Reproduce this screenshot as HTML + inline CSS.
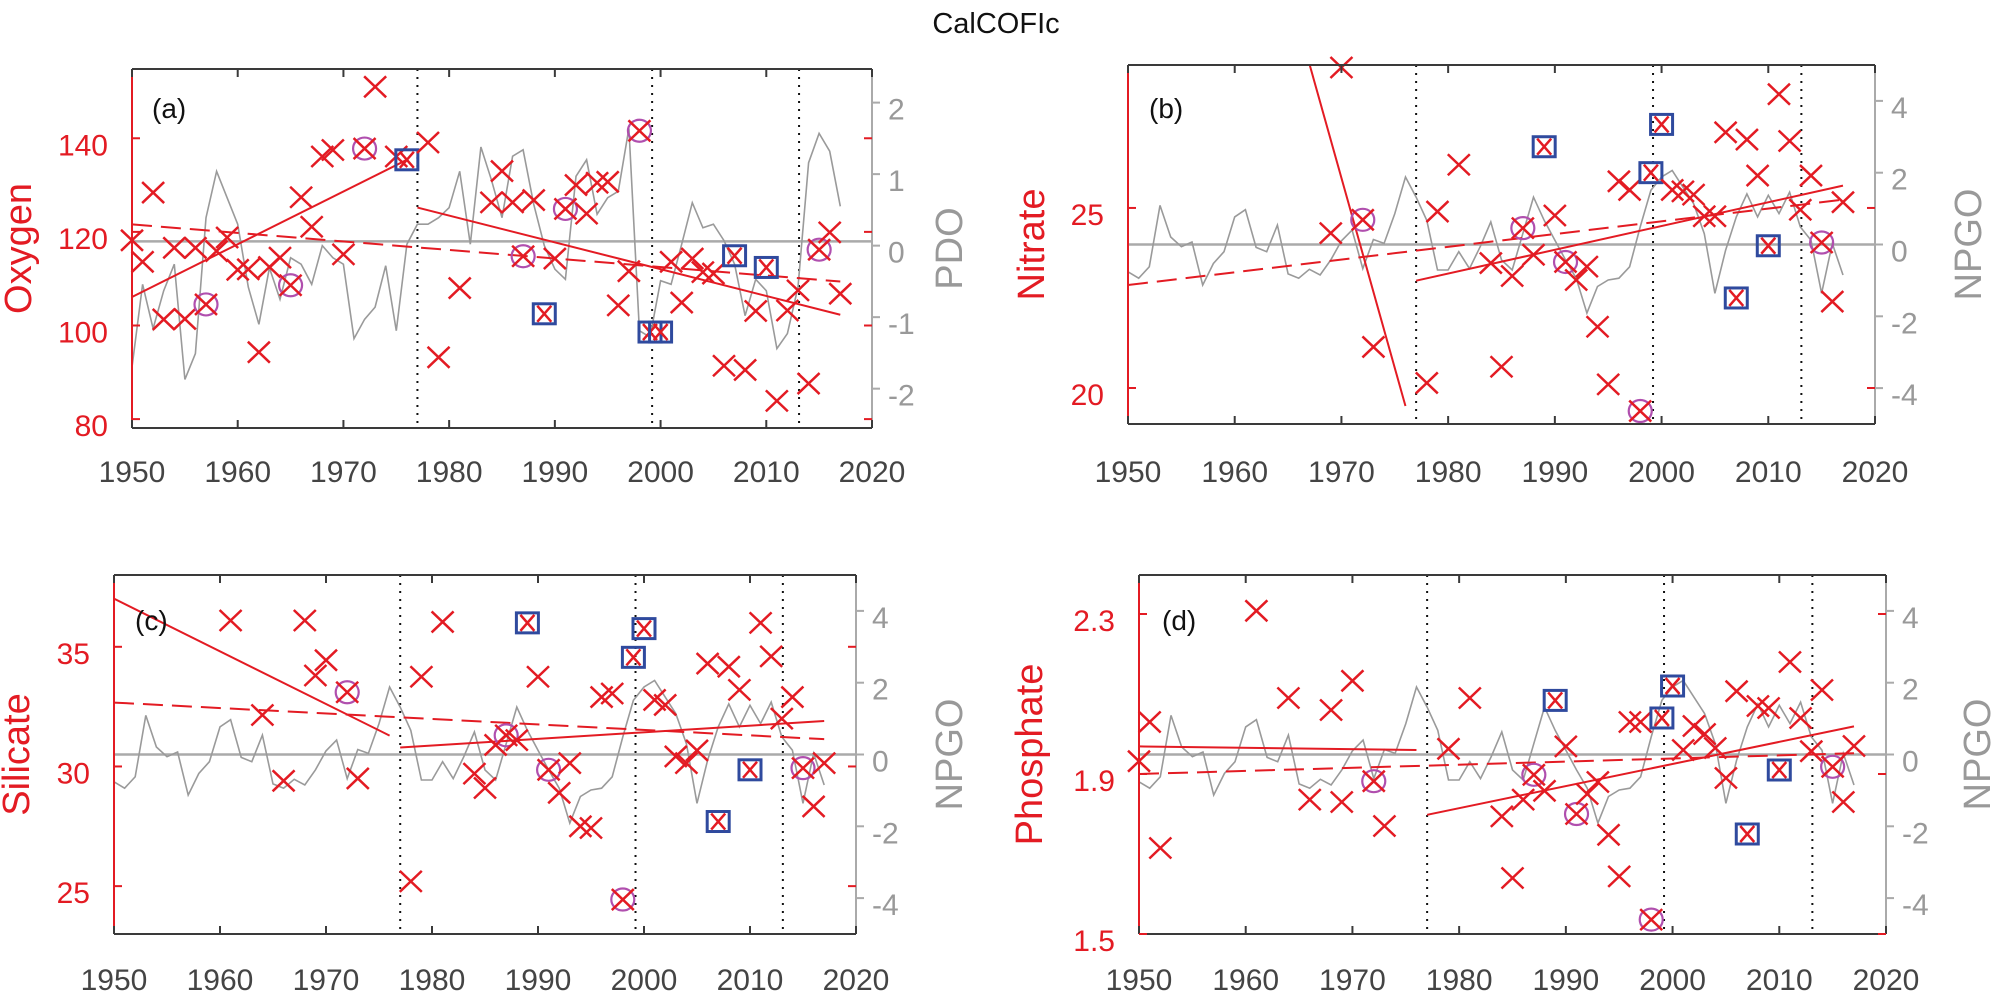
<!DOCTYPE html>
<html><head><meta charset="utf-8"><title>CalCOFIc</title>
<style>
html,body{margin:0;padding:0;background:#fff;}
svg{display:block;font-family:"Liberation Sans",Arial,sans-serif;}
</style></head>
<body>
<svg id="fig" width="1991" height="992" viewBox="0 0 1991 992" xmlns="http://www.w3.org/2000/svg">
<text x="996" y="33" font-size="29" text-anchor="middle" fill="#111">CalCOFIc</text>
</svg>
<script>
// ---------- data ----------
const breakYears = [1977.0, 1999.2, 2013.1];

const oxyYears = [1950,1951,1952,1953,1954,1955,1956,1957,1958,1959,1960,1961,1962,1963,1964,1965,1966,1967,1968,1969,1970,1972,1973,1975,1976,1978,1979,1981,1984,1985,1986,1987,1988,1989,1990,1991,1992,1993,1994,1995,1996,1997,1998,1999,2000,2001,2002,2003,2004,2005,2006,2007,2008,2009,2010,2011,2012,2013,2014,2015,2016,2017];
const oxyValues = [118.2,113.6,128.4,101.3,116.6,101.4,116.6,104.5,115.9,118.8,111.9,112,94.3,112.5,114.5,108.6,127.4,121.1,136.1,137.5,115.2,137.8,151,136.1,135.4,139.1,93.2,108,126.3,133,126.3,114.8,126.8,102.5,114.3,124.9,130,123.9,130.5,130.7,104.3,111.6,141.6,98.6,98.6,113.6,104.9,114.3,111.4,111.1,91.4,114.9,90.5,103.1,112.4,83.9,103.2,107.5,87.6,116.2,119.9,106.8];
const oxyCircleYears = [1957,1965,1972,1987,1991,1998,2015];
const oxySquareYears = [1976,1989,1999,2000,2007,2010];
const oxyTrend1 = [[1950,106.1],[1976,135.4]];
const oxyTrend2 = [[1977,125.2],[2017,102.3]];
const oxyTrendAll = [[1950,121.6],[2017,109.4]];

const indexYears = [1950,1951,1952,1953,1954,1955,1956,1957,1958,1959,1960,1961,1962,1963,1964,1965,1966,1967,1968,1969,1970,1971,1972,1973,1974,1975,1976,1977,1978,1979,1980,1981,1982,1983,1984,1985,1986,1987,1988,1989,1990,1991,1992,1993,1994,1995,1996,1997,1998,1999,2000,2001,2002,2003,2004,2005,2006,2007,2008,2009,2010,2011,2012,2013,2014,2015,2016,2017];
const pdoValues = [-1.70,-0.54,-1.16,-0.63,-0.26,-1.87,-1.51,0.39,1.04,0.67,0.30,-0.58,-1.10,-0.31,-0.75,-0.17,-0.26,-0.54,0,-0.17,-0.26,-1.30,-1.03,-0.86,-0.28,-1.19,0.02,0.30,0.30,0.39,0.53,1.04,0.02,1.38,0.92,0.39,1.25,1.34,0.58,0,-0.33,-0.47,0.97,1.20,0.44,0.67,0.76,1.64,-1.19,-1.28,-0.49,-0.54,0.02,0.60,0.25,0.30,0.07,-0.26,-0.98,-0.47,-0.63,-1.44,-1.23,-0.58,1.16,1.57,1.32,0.55];
const npgoValues = [-0.76,-0.94,-0.62,1.09,0.21,-0.06,0.07,-1.13,-0.53,-0.2,0.77,0.97,-0.08,-0.2,0.54,-0.82,-0.94,-0.69,-0.85,-0.43,0.10,0.40,-0.67,0.14,0.03,0.86,1.88,1.32,0.67,-0.71,-0.71,-0.2,-0.67,-0.06,0.63,-0.43,-0.71,0.30,1.32,0.67,0.12,-0.43,-0.94,-1.91,-1.17,-0.99,-0.94,-0.62,0.49,1.51,1.88,2.06,1.60,1.14,0.30,-1.36,-0.16,0.77,1.41,0.77,1.37,0.86,1.46,0.49,0.12,-1.36,0.03,-0.85];

const nitYears = [1969,1970,1972,1973,1978,1979,1981,1984,1985,1986,1987,1988,1989,1990,1991,1992,1993,1994,1995,1996,1997,1998,1999,2000,2001,2002,2003,2004,2005,2006,2007,2008,2009,2010,2011,2012,2013,2014,2015,2016,2017];
const nitValues = [24.3,28.9,24.67,21.14,20.14,24.9,26.2,23.47,20.59,23.11,24.44,23.7,26.7,24.79,23.5,23.0,23.37,21.7,20.1,25.74,25.5,19.36,25.98,27.32,25.5,25.46,25.37,24.77,24.77,27.1,22.5,26.9,25.9,23.95,28.16,26.86,24.95,25.9,24.04,22.4,25.16];
const nitCircleYears = [1972,1987,1991,1998,2015];
const nitSquareYears = [1989,1999,2000,2007,2010];
const nitTrend1 = [[1967,29.0],[1976,19.5]];
const nitTrend2 = [[1977,22.98],[2017,25.62]];
const nitTrendAll = [[1950,22.86],[2017,25.23]];

const silYears = [1961,1964,1966,1968,1969,1970,1972,1973,1978,1979,1981,1984,1985,1986,1987,1988,1989,1990,1991,1992,1993,1994,1995,1996,1997,1998,1999,2000,2001,2002,2003,2004,2005,2006,2007,2008,2009,2010,2011,2012,2013,2014,2015,2016,2017];
const silValues = [36.1,32.15,29.4,36.1,33.8,34.44,33.1,29.5,25.2,33.75,36.04,29.7,29.1,30.9,31.3,31.1,36.0,33.75,29.86,28.9,30.14,27.5,27.43,32.9,33.05,24.44,34.56,35.76,32.78,32.57,30.42,30.14,30.67,34.3,27.7,34.17,33.2,29.86,36.0,34.6,32.0,32.9,29.93,28.33,30.14];
const silCircleYears = [1972,1987,1991,1998,2015];
const silSquareYears = [1989,1999,2000,2007,2010];
const silTrend1 = [[1950,37.01],[1976,31.29]];
const silTrend2 = [[1977,30.79],[2017,31.9]];
const silTrendAll = [[1950,32.67],[2017,31.14]];

const phoYears = [1950,1951,1952,1961,1964,1966,1968,1969,1970,1972,1973,1979,1981,1984,1985,1986,1987,1988,1989,1990,1991,1992,1993,1994,1995,1996,1997,1998,1999,2000,2001,2002,2003,2004,2005,2006,2007,2008,2009,2010,2011,2012,2013,2014,2015,2016,2017];
const phoValues = [1.932,2.03,1.715,2.308,2.09,1.836,2.06,1.83,2.133,1.882,1.77,1.963,2.09,1.794,1.64,1.836,1.898,1.858,2.084,1.969,1.8,1.85,1.88,1.748,1.644,2.03,2.03,1.536,2.04,2.12,1.96,2.02,2.0,1.965,1.89,2.107,1.75,2.07,2.065,1.91,2.18,2.04,1.957,2.11,1.918,1.83,1.97];
const phoCircleYears = [1972,1987,1991,1998,2015];
const phoSquareYears = [1989,1999,2000,2007,2010];
const phoTrend1 = [[1950,1.969],[1976,1.96]];
const phoTrend2 = [[1977,1.798],[2017,2.019]];
const phoTrendAll = [[1950,1.9],[2017,1.952]];

const xTicks = [1950,1960,1970,1980,1990,2000,2010,2020];
const oxyTicks = [80,100,120,140];
const nitTicks = [20,25];
const silTicks = [25,30,35];
const phoTicks = [1.5,1.9,2.3];
const pdoTicks = [-2,-1,0,1,2];
const npgoTicks = [-4,-2,0,2,4];

// ---------- drawing ----------
const NS = "http://www.w3.org/2000/svg";
const svg = document.getElementById('fig');
const RED = "#e31b23", GRAY = "#9a9a9a", AX = "#3a3a3a";
function mk(tag, attrs, parent){
  const e = document.createElementNS(NS, tag);
  for (const k in attrs) e.setAttribute(k, attrs[k]);
  (parent||svg).appendChild(e);
  return e;
}

function panel(cfg){
  const g = mk('g', {});
  
  
  const L=cfg.box[0], T=cfg.box[1], R=cfg.box[2], B=cfg.box[3];
  const xs = y => L + (y-1950)/70*(R-L);
  const ys = v => B - (v-cfg.yMin)/(cfg.yMax-cfg.yMin)*(B-T);
  const rs = v => B - (v-cfg.rMin)/(cfg.rMax-cfg.rMin)*(B-T);

  const clipId = cfg.name + '-clip';
  const cp = mk('clipPath', {id: clipId}, g);
  mk('rect', {x:L, y:T, width:R-L, height:B-T}, cp);
  const plot = mk('g', {'clip-path':'url(#'+clipId+')'}, g);
  
  

  breakYears.forEach(by => {
    const l = mk('line', {x1:xs(by), x2:xs(by), y1:T, y2:B, stroke:'#111', 'stroke-width':2, 'stroke-dasharray':'2 6'}, plot);
    
    
  });
  const z = mk('line', {x1:L, x2:R, y1:rs(cfg.zero), y2:rs(cfg.zero), stroke:'#aaa', 'stroke-width':2.5}, plot);
  
  
  const pts = cfg.idx.map((v,i) => xs(indexYears[i]).toFixed(1)+','+rs(v).toFixed(1)).join(' ');
  const pl = mk('polyline', {points:pts, fill:'none', stroke:GRAY, 'stroke-width':1.6}, plot);
  
  
  [[cfg.t1,null,'trend-pre-1977'],[cfg.t2,null,'trend-post-1977'],[cfg.tAll,'20 9','trend-full-period']].forEach(t => {
    const a = {x1:xs(t[0][0][0]), y1:ys(t[0][0][1]), x2:xs(t[0][1][0]), y2:ys(t[0][1][1]), stroke:RED, 'stroke-width':2};
    if (t[1]) a['stroke-dasharray'] = t[1];
    const l = mk('line', a, plot);
    
    
  });
  cfg.years.forEach((yr,i) => {
    const cx = xs(yr), cy = ys(cfg.vals[i]);
    const isSq = cfg.sq.indexOf(yr) >= 0;
    if (isSq) {
      const s = mk('rect', {x:cx-11, y:cy-10, width:22, height:20, fill:'none', stroke:'#2f4a9e', 'stroke-width':3}, g);
      
      
    }
    if (cfg.ci.indexOf(yr) >= 0) {
      const c = mk('ellipse', {cx:cx, cy:cy, rx:11.5, ry:11, fill:'none', stroke:'#b04fae', 'stroke-width':2.2}, g);
      
      
    }
    const hw = isSq ? 7 : 11, hh = isSq ? 8 : 10.5;
    const x = mk('path', {d:'M'+(cx-hw)+' '+(cy-hh)+'L'+(cx+hw)+' '+(cy+hh)+'M'+(cx+hw)+' '+(cy-hh)+'L'+(cx-hw)+' '+(cy+hh), stroke:RED, 'stroke-width':2.5, fill:'none'}, g);
    
    
  });

  mk('line', {x1:L, x2:R, y1:T, y2:T, stroke:AX, 'stroke-width':2}, g);
  mk('line', {x1:L, x2:R, y1:B, y2:B, stroke:AX, 'stroke-width':2}, g);
  mk('line', {x1:L, x2:L, y1:T, y2:B, stroke:RED, 'stroke-width':2}, g);
  mk('line', {x1:R, x2:R, y1:T, y2:B, stroke:'#aaa', 'stroke-width':2}, g);

  xTicks.forEach(t => {
    const x = xs(t);
    mk('line', {x1:x, x2:x, y1:B, y2:B-8, stroke:AX, 'stroke-width':2}, g);
    mk('line', {x1:x, x2:x, y1:T, y2:T+8, stroke:AX, 'stroke-width':2}, g);
    const tx = mk('text', {x:x, y:cfg.xLabY, 'font-size':30, 'text-anchor':'middle', fill:'#444'}, g);
    tx.textContent = t;
    
    
  });
  cfg.lt.forEach(t => {
    const y = ys(t);
    mk('line', {x1:L, x2:L+8, y1:y, y2:y, stroke:RED, 'stroke-width':2}, g);
    mk('line', {x1:R, x2:R-8, y1:y, y2:y, stroke:RED, 'stroke-width':2}, g);
    const tx = mk('text', {x:L-24, y:y+17, 'font-size':30, 'text-anchor':'end', fill:RED}, g);
    tx.textContent = t;
    
    
  });
  cfg.rt.forEach(t => {
    const y = rs(t);
    mk('line', {x1:R, x2:R+8, y1:y, y2:y, stroke:'#aaa', 'stroke-width':2}, g);
    const tx = mk('text', {x:R+16, y:y+17, 'font-size':30, 'text-anchor':'start', fill:'#999'}, g);
    tx.textContent = t;
    
    
  });
  const cy = (T+B)/2;
  const lt = mk('text', {x:cfg.lTitleX, y:cy, 'font-size':38, 'text-anchor':'middle', fill:RED, transform:'rotate(-90 '+cfg.lTitleX+' '+cy+')', 'dominant-baseline':'central'}, g);
  lt.textContent = cfg.lTitle;
  
  
  const rt = mk('text', {x:cfg.rTitleX, y:cy, 'font-size':38, 'text-anchor':'middle', fill:'#999', transform:'rotate(-90 '+cfg.rTitleX+' '+cy+')', 'dominant-baseline':'central'}, g);
  rt.textContent = cfg.rTitle;
  
  
  const pl2 = mk('text', {x:cfg.labXY[0], y:cfg.labXY[1], 'font-size':28, fill:'#111'}, g);
  pl2.textContent = cfg.label;
  
  
}

panel({name:'panel-a-oxygen', var:'oxygen', box:[132,69,872,428], yMin:78.1, yMax:154.8, rMin:-2.55, rMax:2.47, zero:0.06,
  idx:pdoValues, idxName:'pdo', years:oxyYears, vals:oxyValues, ci:oxyCircleYears, sq:oxySquareYears,
  t1:oxyTrend1, t2:oxyTrend2, tAll:oxyTrendAll, lt:oxyTicks, rt:pdoTicks, xLabY:482,
  lTitle:'Oxygen', rTitle:'PDO', lTitleX:19, rTitleX:950, label:'(a)', labXY:[152,118]});
panel({name:'panel-b-nitrate', var:'nitrate', box:[1128,65,1875,424], yMin:19, yMax:28.97, rMin:-5, rMax:5, zero:0,
  idx:npgoValues, idxName:'npgo', years:nitYears, vals:nitValues, ci:nitCircleYears, sq:nitSquareYears,
  t1:nitTrend1, t2:nitTrend2, tAll:nitTrendAll, lt:nitTicks, rt:npgoTicks, xLabY:482,
  lTitle:'Nitrate', rTitle:'NPGO', lTitleX:1032, rTitleX:1969, label:'(b)', labXY:[1149,118]});
panel({name:'panel-c-silicate', var:'silicate', box:[114,575,856,934], yMin:23, yMax:38, rMin:-5, rMax:5, zero:0,
  idx:npgoValues, idxName:'npgo', years:silYears, vals:silValues, ci:silCircleYears, sq:silSquareYears,
  t1:silTrend1, t2:silTrend2, tAll:silTrendAll, lt:silTicks, rt:npgoTicks, xLabY:990,
  lTitle:'Silicate', rTitle:'NPGO', lTitleX:17, rTitleX:950, label:'(c)', labXY:[135,630]});
panel({name:'panel-d-phosphate', var:'phosphate', box:[1139,575,1886,934], yMin:1.5, yMax:2.3975, rMin:-5, rMax:5, zero:0,
  idx:npgoValues, idxName:'npgo', years:phoYears, vals:phoValues, ci:phoCircleYears, sq:phoSquareYears,
  t1:phoTrend1, t2:phoTrend2, tAll:phoTrendAll, lt:phoTicks, rt:npgoTicks, xLabY:990,
  lTitle:'Phosphate', rTitle:'NPGO', lTitleX:1030, rTitleX:1978, label:'(d)', labXY:[1162,630]});
</script>
</body></html>
